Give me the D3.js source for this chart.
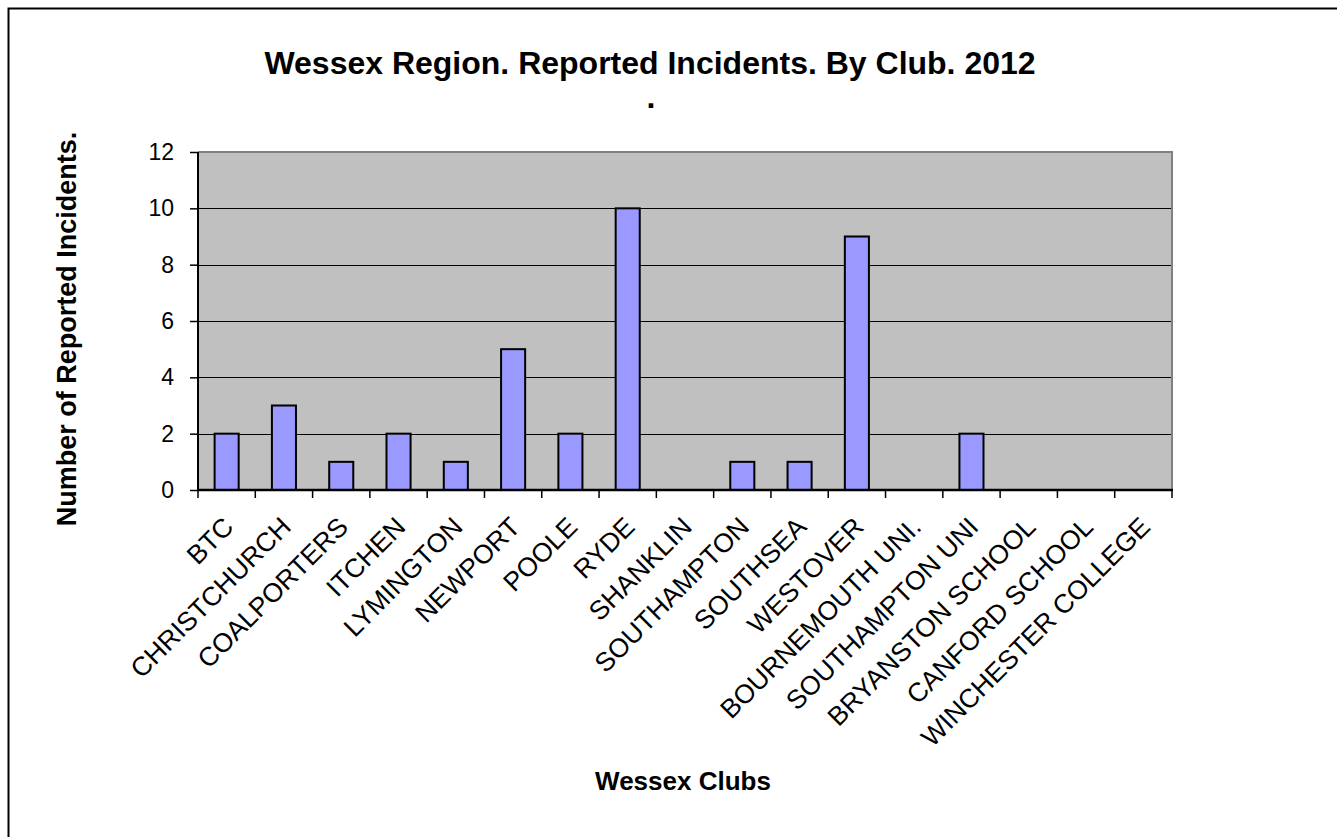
<!DOCTYPE html>
<html><head><meta charset="utf-8">
<script src="https://cdn.jsdelivr.net/npm/d3@7"></script>
<style>body{margin:0;background:#fff}svg{display:block;font-family:Arial,"Liberation Sans",sans-serif}</style>
</head><body>
<svg id="c" width="1337" height="837"></svg>
<script>
const categories = ["BTC","CHRISTCHURCH","COALPORTERS","ITCHEN","LYMINGTON","NEWPORT","POOLE","RYDE","SHANKLIN","SOUTHAMPTON","SOUTHSEA","WESTOVER","BOURNEMOUTH UNI.","SOUTHAMPTON UNI","BRYANSTON SCHOOL","CANFORD SCHOOL","WINCHESTER COLLEGE"];
const incidents = [2,3,1,2,1,5,2,10,0,1,1,9,0,2,0,0,0];
const yTicks = [0,2,4,6,8,10,12];
const titleText = "Wessex Region. Reported Incidents. By Club. 2012";
const subtitleText = ".";
const xTitle = "Wessex Clubs";
const yTitle = "Number of Reported Incidents.";

const svg = d3.select("#c");
const L = 198, R = 1172, T = 152, B = 490;

svg.append("rect").attr("x",8.5).attr("y",8.5).attr("width",1400).attr("height",900)
  .attr("fill","#fff").attr("stroke","#000").attr("stroke-width",2);

const x = d3.scaleBand().domain(categories).range([L,R]).paddingInner(0.58).paddingOuter(0.29);
const y = d3.scaleLinear().domain([0,12]).range([B,T]);

svg.append("rect").attr("x",L).attr("y",T).attr("width",R-L).attr("height",B-T).attr("fill","#c0c0c0");

// gridlines
svg.append("g").selectAll("line").data(yTicks.filter(d=>d>0&&d<12)).join("line")
  .attr("x1",L).attr("x2",R).attr("y1",d=>Math.round(y(d))+0.5).attr("y2",d=>Math.round(y(d))+0.5)
  .attr("stroke","#000").attr("stroke-width",1);
// top & right border gray
svg.append("line").attr("x1",L).attr("x2",R+1).attr("y1",T).attr("y2",T).attr("stroke","#808080").attr("stroke-width",2);
svg.append("line").attr("x1",R).attr("x2",R).attr("y1",T).attr("y2",B).attr("stroke","#808080").attr("stroke-width",2);

// bars
svg.append("g").selectAll("rect").data(categories.map((c,i)=>({c,v:incidents[i]})).filter(d=>d.v>0)).join("rect")
  .attr("x",d=>x(d.c)).attr("width",x.bandwidth())
  .attr("y",d=>y(d.v)).attr("height",d=>B-y(d.v))
  .attr("fill","#9999ff").attr("stroke","#000").attr("stroke-width",2);

// y axis
const yAxis = d3.axisLeft(y).tickValues(yTicks).tickSize(8).tickPadding(16);
const gy = svg.append("g").attr("transform",`translate(${L},0)`).call(yAxis);
gy.select(".domain").attr("stroke","#000").attr("stroke-width",2).attr("d",`M0,${T}V${B}`);
gy.selectAll(".tick line").attr("stroke","#000").attr("stroke-width",1.5);
gy.selectAll(".tick text").attr("font-size",23).attr("fill","#000").attr("font-family","Arial, 'Liberation Sans', sans-serif");

// x axis
const gx = svg.append("g").attr("transform",`translate(0,${B})`);
gx.append("line").attr("x1",L-1).attr("x2",R+1).attr("y1",0).attr("y2",0).attr("stroke","#000").attr("stroke-width",2.5);
const bounds = d3.range(categories.length+1).map(i=>L+i*(R-L)/categories.length);
gx.selectAll("line.t").data(bounds).join("line").attr("class","t")
  .attr("x1",d=>d).attr("x2",d=>d).attr("y1",0).attr("y2",8).attr("stroke","#000").attr("stroke-width",1.5);
gx.selectAll("text").data(categories).join("text")
  .attr("transform",d=>`translate(${x(d)+x.bandwidth()/2-5},${25}) rotate(-45)`)
  .attr("text-anchor","end").attr("dy","0.72em").attr("font-size",26.5).attr("fill","#000").text(d=>d);

// titles
svg.append("text").attr("x",650).attr("y",74).attr("text-anchor","middle").attr("font-size",32).attr("font-weight","bold").text(titleText);
svg.append("text").attr("x",651).attr("y",108).attr("text-anchor","middle").attr("font-size",32).attr("font-weight","bold").text(subtitleText);
svg.append("text").attr("x",683).attr("y",790).attr("text-anchor","middle").attr("font-size",26).attr("font-weight","bold").text(xTitle);
svg.append("text").attr("transform","translate(76,329) rotate(-90)").attr("text-anchor","middle").attr("font-size",27).attr("font-weight","bold").text(yTitle);
</script>
</body></html>
